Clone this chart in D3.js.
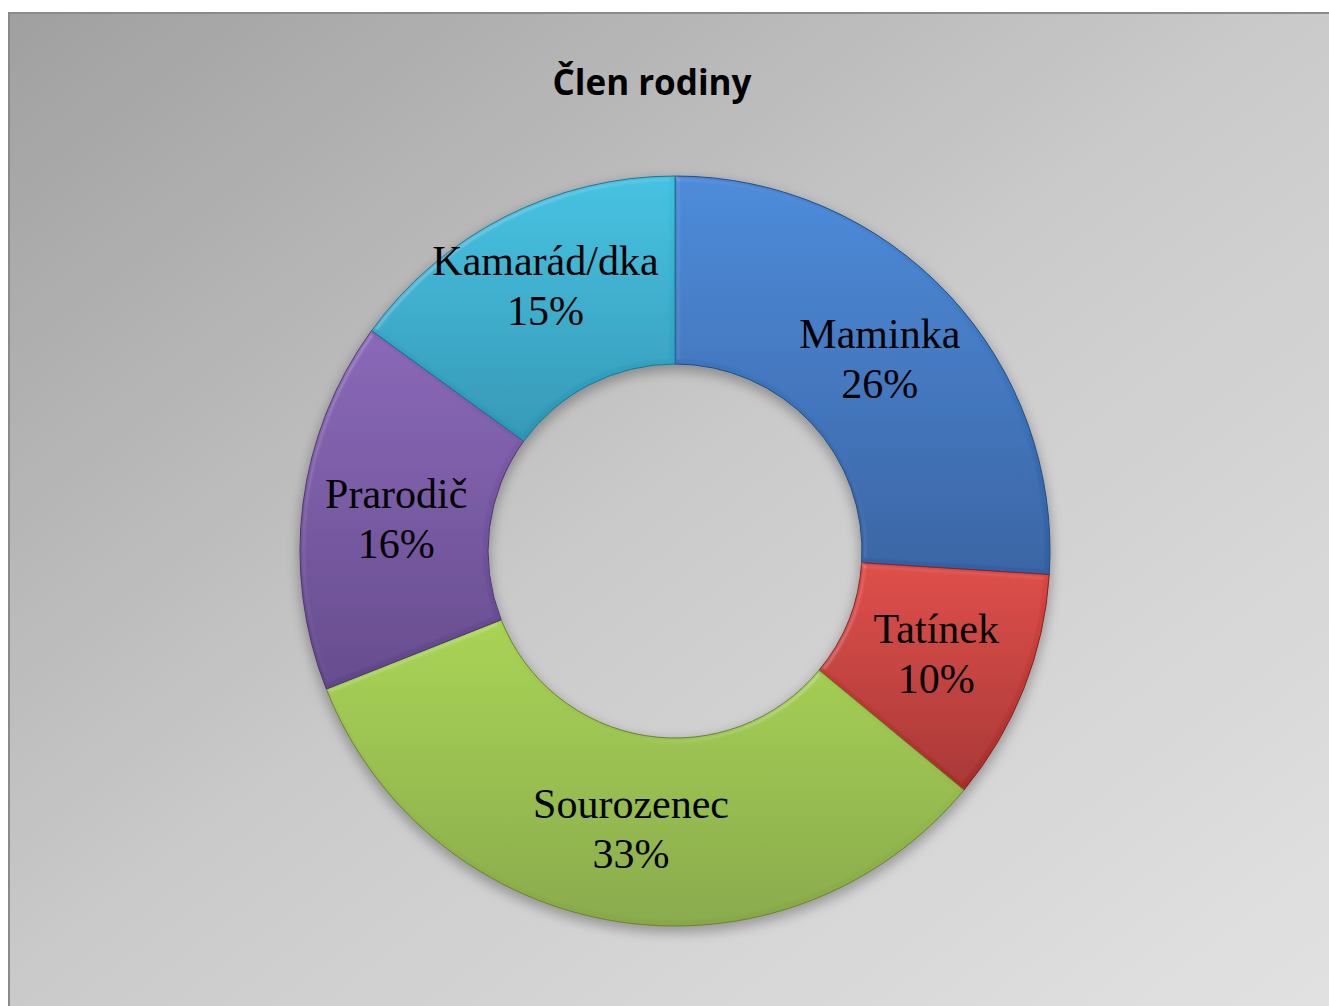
<!DOCTYPE html>
<html>
<head>
  <meta charset="UTF-8">
  <style>
    body { margin: 0; padding: 0; background: #ffffff; }
    svg { display: block; }
  </style>
</head>
<body>
<svg id="chart"></svg>
<script src="https://cdn.jsdelivr.net/npm/d3@7"></script>
<script>
// chart data
const categories = ["Maminka", "Tatínek", "Sourozenec", "Prarodič", "Kamarád/dka"];
const shares = [26, 10, 33, 16, 15];
const sliceTop = ["#4588d8", "#dd4742", "#a6d24e", "#8763b6", "#3ec0e0"];
const sliceBottom = ["#3060a2", "#a52d2b", "#86a846", "#61458a", "#2a95b4"];
const title = "Člen rodiny";

let width = 1329, height = 1006;
let cx = 675, cy = 551, rOuter = 375, rInner = 187;

let svg = d3.select("#chart")
    .attr("width", width)
    .attr("height", height);

let defs = svg.append("defs");

// background gradient
let bg = defs.append("linearGradient")
    .attr("id", "bg")
    .attr("x1", "0").attr("y1", "0")
    .attr("x2", "1").attr("y2", "1");
bg.append("stop").attr("offset", "0%").attr("stop-color", "#a0a0a0");
bg.append("stop").attr("offset", "50%").attr("stop-color", "#cbcbcb");
bg.append("stop").attr("offset", "100%").attr("stop-color", "#e2e2e2");

// slice gradients
categories.forEach((c, i) => {
    let g = defs.append("linearGradient")
        .attr("id", "sl" + i)
        .attr("x1", "0").attr("y1", "0")
        .attr("x2", "0").attr("y2", "1");
    g.append("stop").attr("offset", "0%").attr("stop-color", sliceTop[i]);
    g.append("stop").attr("offset", "100%").attr("stop-color", sliceBottom[i]);
});

// bevel + shadow
let bevel = defs.append("filter").attr("id", "bevel")
    .attr("x", "-10%").attr("y", "-10%").attr("width", "120%").attr("height", "120%");
bevel.append("feGaussianBlur").attr("in", "SourceAlpha").attr("stdDeviation", 2.5).attr("result", "blur");
bevel.append("feSpecularLighting")
    .attr("in", "blur").attr("surfaceScale", 3).attr("specularConstant", 0.5)
    .attr("specularExponent", 25).attr("lighting-color", "#ffffff").attr("result", "spec")
    .append("feDistantLight").attr("azimuth", 225).attr("elevation", 45);
bevel.append("feComposite").attr("in", "spec").attr("in2", "SourceAlpha")
    .attr("operator", "in").attr("result", "specIn");
bevel.append("feComposite").attr("in", "SourceGraphic").attr("in2", "specIn")
    .attr("operator", "arithmetic").attr("k1", 0).attr("k2", 1).attr("k3", 0.22).attr("k4", 0);

let shadow = defs.append("filter").attr("id", "shadow")
    .attr("x", "-20%").attr("y", "-20%").attr("width", "140%").attr("height", "140%");
shadow.append("feGaussianBlur").attr("stdDeviation", 6);

// background frame
svg.append("rect")
    .attr("x", 9).attr("y", 13)
    .attr("width", width).attr("height", height)
    .attr("fill", "url(#bg)")
    .attr("stroke", "#8a8a8a")
    .attr("stroke-width", 2);

// title
svg.append("text")
    .attr("x", 652).attr("y", 95)
    .attr("text-anchor", "middle")
    .attr("font-family", "'Open Sans', 'Noto Sans', sans-serif")
    .attr("font-weight", "bold")
    .attr("font-size", 35)
    .attr("fill", "#000")
    .text(title);

let pie = d3.pie().sort(null).value(d => d);
let arcs = pie(shares);
let arc = d3.arc().innerRadius(rInner).outerRadius(rOuter);

let g = svg.append("g").attr("transform", `translate(${cx},${cy})`);

// shadow under the ring
g.append("path")
    .attr("d", d3.arc().innerRadius(rInner - 2).outerRadius(rOuter + 2)({startAngle: 0, endAngle: 2 * Math.PI}))
    .attr("transform", "translate(0,5)")
    .attr("fill", "rgba(0,0,0,0.28)")
    .attr("filter", "url(#shadow)");

g.selectAll("path.slice")
    .data(arcs)
    .enter()
    .append("path")
    .attr("class", "slice")
    .attr("d", arc)
    .attr("fill", (d, i) => `url(#sl${i})`)
    .attr("stroke", (d, i) => d3.color(sliceBottom[i]).darker(0.7))
    .attr("stroke-width", 1)
    .attr("filter", "url(#bevel)");

// labels (the friend label sits a bit higher, as in the original)
let labels = g.selectAll("text.lbl")
    .data(arcs)
    .enter()
    .append("text")
    .attr("class", "lbl")
    .attr("text-anchor", "middle")
    .attr("font-family", "'Liberation Serif', 'Times New Roman', serif")
    .attr("font-size", 42)
    .attr("fill", "#000")
    .attr("transform", (d, i) => {
        let c = arc.centroid(d);
        let nudge = i === 4 ? -15 : (i === 3 ? 3 : 0);
        return `translate(${c[0] - (i === 4 ? 2 : 0)},${c[1] + nudge})`;
    });
labels.append("tspan").attr("x", 0).attr("dy", -11).text((d, i) => categories[i]);
labels.append("tspan").attr("x", 0).attr("dy", 50).text(d => d.data + "%");
</script>
</body>
</html>
